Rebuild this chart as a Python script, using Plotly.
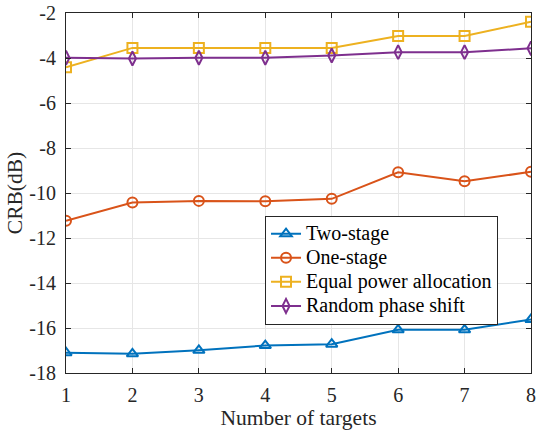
import plotly.graph_objects as go

targets = [1, 2, 3, 4, 5, 6, 7, 8]
two_stage = [-17.10, -17.15, -16.99, -16.78, -16.72, -16.08, -16.08, -15.62]
one_stage = [-11.23, -10.42, -10.35, -10.37, -10.26, -9.08, -9.48, -9.06]
equal_power = [-4.41, -3.55, -3.55, -3.55, -3.55, -3.02, -3.02, -2.39]
random_phase = [-3.99, -4.02, -3.99, -3.99, -3.89, -3.74, -3.74, -3.57]

names = ["Two-stage", "One-stage", "Equal power allocation", "Random phase shift"]
colors = ["#0072BD", "#D95319", "#EDB120", "#7E2F8E"]
symbols = ["triangle-up-open", "circle-open", "square-open", "diamond-tall-open"]
values = [two_stage, one_stage, equal_power, random_phase]

yticks = [-18, -16, -14, -12, -10, -8, -6, -4, -2]
ytext = [str(v) for v in yticks]
xticks = targets
xtext = [str(v) for v in xticks]

fig = go.Figure()
for name, vals, col, sym in zip(names, values, colors, symbols):
    fig.add_trace(go.Scatter(
        x=targets, y=vals, mode="lines+markers",
        name='<span style="font-size:20px">' + name + '</span>',
        line=dict(color=col, width=2),
        marker=dict(symbol=sym, size=10, color=col, line=dict(color=col, width=2)),
    ))

font = "Times New Roman, Liberation Serif, serif"
axcol = "#262626"
fig.update_layout(
    width=538, height=432,
    margin=dict(l=66, r=2, t=9, b=59),
    paper_bgcolor="white", plot_bgcolor="white",
    font=dict(family=font, size=20, color=axcol),
    showlegend=True,
    legend=dict(
        x=0.428, y=0.437, xanchor="left", yanchor="top",
        bgcolor="white", bordercolor=axcol, borderwidth=1,
        font=dict(family=font, size=16.2, color="#000000"),
        tracegroupgap=0, itemwidth=30,
    ),
    xaxis=dict(
        range=[1, 8], tickvals=xticks, ticktext=xtext,
        showgrid=True, gridcolor="#e6e6e6", gridwidth=1,
        showline=True, linecolor=axcol, linewidth=1, mirror="ticks",
        ticks="inside", ticklen=5, tickcolor=axcol,
        zeroline=False, ticklabelstandoff=4, ticklabeloverflow="allow",
        title=dict(text="Number of targets", font=dict(family=font, size=21.5, color=axcol), standoff=4),
    ),
    yaxis=dict(
        range=[-18, -2], tickvals=yticks, ticktext=ytext,
        showgrid=True, gridcolor="#e6e6e6", gridwidth=1,
        showline=True, linecolor=axcol, linewidth=1, mirror="ticks",
        ticks="inside", ticklen=5, tickcolor=axcol,
        zeroline=False, ticklabelstandoff=5, ticklabeloverflow="allow",
        title=dict(text="CRB(dB)", font=dict(family=font, size=21.5, color=axcol), standoff=0),
    ),
)

fig.write_html("out.html", config={"displayModeBar": False},
               post_script="document.body.style.margin='0';")
